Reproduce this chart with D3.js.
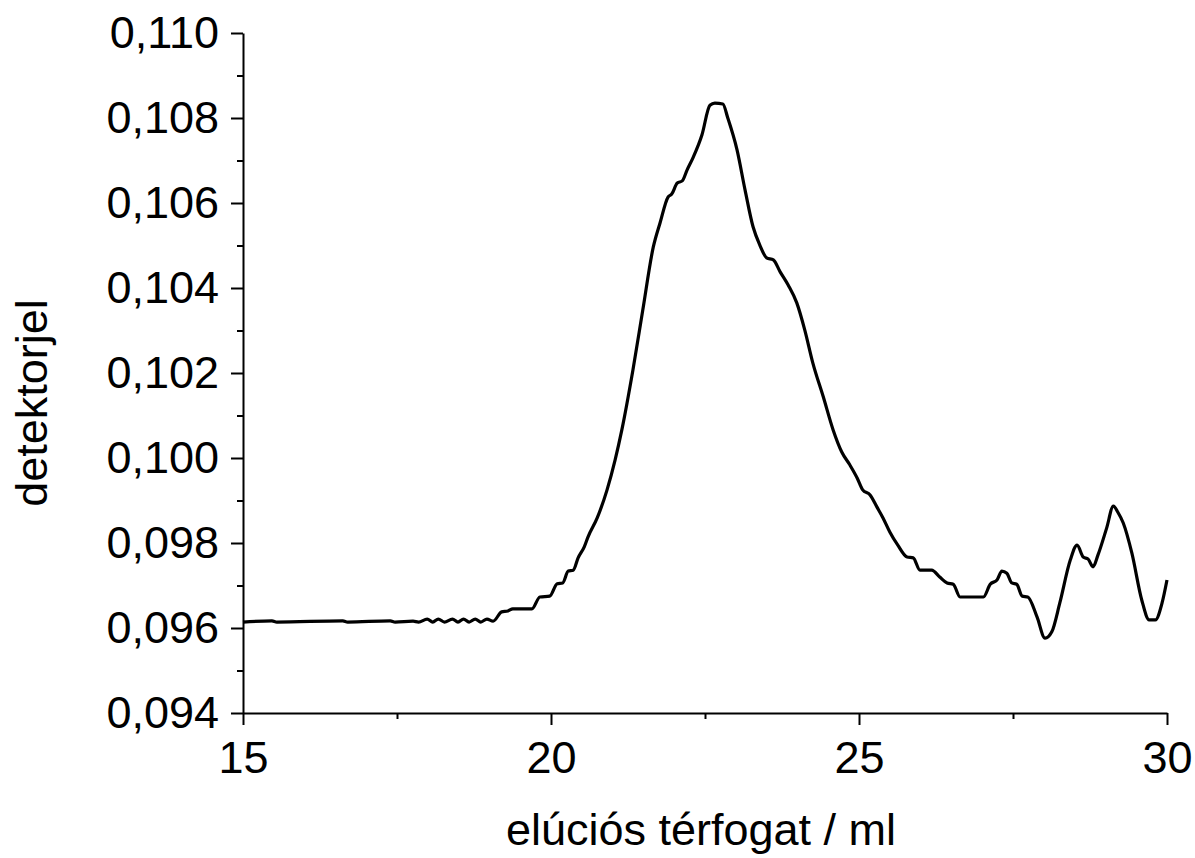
<!DOCTYPE html>
<html>
<head>
<meta charset="utf-8">
<script src="https://cdn.jsdelivr.net/npm/d3@7"></script>
<style>
  body { margin: 0; background: #fff; }
  text { font-family: Arial, "Liberation Sans", sans-serif; fill: #000; }
</style>
</head>
<body>
<div id="chart"></div>
<script>
// elution volume (ml)
const volume = [
  15.00, 15.47, 15.55, 16.62, 16.70, 17.39, 17.47, 17.76, 17.85, 17.99,
  18.08, 18.17, 18.27, 18.40, 18.49, 18.58, 18.67, 18.77, 18.86, 18.96,
  19.06, 19.20, 19.30, 19.38, 19.69, 19.82, 19.98, 20.10, 20.19, 20.28,
  20.36, 20.44, 20.54, 20.60, 20.75, 20.91, 21.04, 21.15, 21.33, 21.49,
  21.66, 21.77, 21.90, 21.96, 22.05, 22.13, 22.21, 22.31, 22.45, 22.58,
  22.66, 22.79, 22.87, 23.02, 23.15, 23.28, 23.39, 23.50, 23.61, 23.72,
  23.85, 23.99, 24.12, 24.25, 24.42, 24.58, 24.72, 24.85, 24.97, 25.06,
  25.18, 25.29, 25.39, 25.50, 25.63, 25.78, 25.88, 25.99, 26.18, 26.31,
  26.43, 26.53, 26.64, 27.02, 27.13, 27.24, 27.32, 27.40, 27.48, 27.56,
  27.65, 27.74, 27.89, 28.02, 28.13, 28.26, 28.43, 28.54, 28.64, 28.72,
  28.80, 28.88, 29.02, 29.13, 29.20, 29.29, 29.43, 29.59, 29.71, 29.81,
  29.92, 30.00
]

// detector signal
const signal = [
  0.09614, 0.09617, 0.09614, 0.09617, 0.09614, 0.09617, 0.09614, 0.09616, 0.09614, 0.09621,
  0.09614, 0.09621, 0.09614, 0.09621, 0.09614, 0.09621, 0.09614, 0.09621, 0.09614, 0.09621,
  0.09616, 0.09638, 0.09640, 0.09645, 0.09645, 0.09673, 0.09675, 0.09704, 0.09706, 0.09734,
  0.09736, 0.09765, 0.09791, 0.09814, 0.09859, 0.09925, 0.09995, 0.10066, 0.10207, 0.10348,
  0.10496, 0.10553, 0.10614, 0.10621, 0.10647, 0.10652, 0.10678, 0.10708, 0.10760, 0.10830,
  0.10835, 0.10833, 0.10800, 0.10725, 0.10631, 0.10544, 0.10501, 0.10471, 0.10466, 0.10438,
  0.10407, 0.10365, 0.10301, 0.10224, 0.10144, 0.10066, 0.10014, 0.09984, 0.09953, 0.09925,
  0.09913, 0.09885, 0.09859, 0.09826, 0.09795, 0.09767, 0.09765, 0.09736, 0.09736, 0.09720,
  0.09706, 0.09703, 0.09673, 0.09673, 0.09703, 0.09713, 0.09734, 0.09729, 0.09706, 0.09703,
  0.09675, 0.09673, 0.09626, 0.09576, 0.09591, 0.09659, 0.09760, 0.09795, 0.09767, 0.09762,
  0.09744, 0.09772, 0.09835, 0.09887, 0.09873, 0.09847, 0.09776, 0.09666, 0.09619, 0.09619,
  0.09659, 0.09713
]

const xTicks = [15, 20, 25, 30]
const yTicks = [0.094, 0.096, 0.098, 0.100, 0.102, 0.104, 0.106, 0.108, 0.110]
const xMinorTicks = [17.5, 22.5, 27.5]
const yMinorTicks = [0.095, 0.097, 0.099, 0.101, 0.103, 0.105, 0.107, 0.109]

const xTitle = "elúciós térfogat / ml"
const yTitle = "detektorjel"

const margin = { top: 33, right: 28, bottom: 145, left: 243 }
const width = 1195 - margin.left - margin.right
const height = 858 - margin.top - margin.bottom

const svg = d3.select("#chart").append("svg")
    .attr("width", width + margin.left + margin.right)
    .attr("height", height + margin.top + margin.bottom)
    .append("g")
    .attr("transform", "translate(" + margin.left + "," + margin.top + ")")

const xPositionScale = d3.scaleLinear().domain([15, 30]).range([0, width])
const yPositionScale = d3.scaleLinear().domain([0.094, 0.110]).range([height, 0])

const fmt = d => d3.format(".3f")(d).replace(".", ",")

// minor ticks first, majors drawn over them
svg.append("g")
  .attr("transform", "translate(0," + height + ")")
  .call(d3.axisBottom(xPositionScale).tickValues(xMinorTicks).tickSize(6).tickFormat(""))
  .call(g => g.select(".domain").remove())

svg.append("g")
  .call(d3.axisLeft(yPositionScale).tickValues(yMinorTicks).tickSize(6).tickFormat(""))
  .call(g => g.select(".domain").remove())

const xAxis = svg.append("g")
  .attr("class", "axis x-axis")
  .attr("transform", "translate(0," + height + ")")
  .call(d3.axisBottom(xPositionScale).tickValues(xTicks).tickSize(12).tickSizeOuter(0).tickPadding(16).tickFormat(d => d))

const yAxis = svg.append("g")
  .attr("class", "axis y-axis")
  .call(d3.axisLeft(yPositionScale).tickValues(yTicks).tickSize(12).tickSizeOuter(0).tickPadding(12).tickFormat(fmt))

svg.selectAll(".tick line").attr("stroke", "#000").attr("stroke-width", 2)
svg.selectAll(".axis .domain").attr("stroke", "#000").attr("stroke-width", 2)
svg.selectAll(".axis text").attr("font-size", 45).attr("fill", "#000")
  .style("font-family", "Arial, 'Liberation Sans', sans-serif")

const points = volume.map((v, i) => [v, signal[i]])

svg.append("path")
  .datum(points)
  .attr("fill", "none")
  .attr("stroke", "#000")
  .attr("stroke-width", 3.2)
  .attr("stroke-linejoin", "round")
  .attr("d", d3.line()
    .x(d => xPositionScale(d[0]))
    .y(d => yPositionScale(d[1]))
    .curve(d3.curveMonotoneX))

svg.append("text")
  .attr("x", width / 2 - 4)
  .attr("y", height + 132)
  .attr("text-anchor", "middle")
  .attr("font-size", 45)
  .text(xTitle)

svg.append("text")
  .attr("transform", "translate(" + (-196) + "," + (height / 2 + 30) + ") rotate(-90)")
  .attr("text-anchor", "middle")
  .attr("font-size", 45)
  .text(yTitle)
</script>
</body>
</html>
